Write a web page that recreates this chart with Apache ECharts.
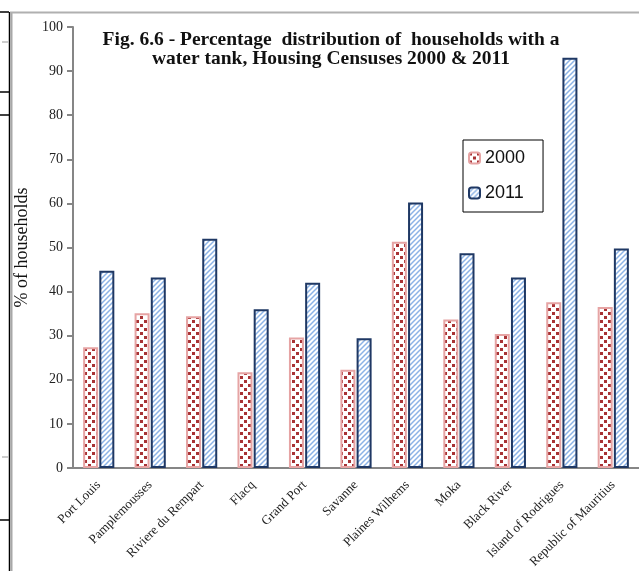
<!DOCTYPE html>
<html>
<head>
<meta charset="utf-8">
<script src="https://cdn.jsdelivr.net/npm/echarts@6/dist/echarts.min.js"></script>
<style>
html,body{margin:0;padding:0;background:#fff;}
#chart{width:639px;height:571px;}
</style>
</head>
<body>
<div id="chart"></div>
<script>
const categories = ["Port Louis","Pamplemousses","Riviere du Rempart","Flacq","Grand Port","Savanne","Plaines Wilhems","Moka","Black River","Island of Rodrigues","Republic of Mauritius"];
const values2000 = [27.4, 35.1, 34.4, 21.7, 29.6, 22.3, 51.3, 33.7, 30.4, 37.6, 36.5];
const values2011 = [44.7, 43.2, 52.0, 36.0, 42.0, 29.4, 60.2, 48.7, 43.2, 93.0, 49.8];
const yTicks = [0, 10, 20, 30, 40, 50, 60, 70, 80, 90, 100];
const seriesNames = ["2000", "2011"];

function dotPattern() {
  const c = document.createElement('canvas');
  c.width = 8; c.height = 8;
  const g = c.getContext('2d');
  g.fillStyle = '#ffffff'; g.fillRect(0, 0, 8, 8);
  g.fillStyle = '#a83234';
  g.fillRect(0, 0, 3, 3);
  g.fillRect(4, 4, 3, 3);
  return c;
}
function hatchPattern() {
  const c = document.createElement('canvas');
  c.width = 5; c.height = 5;
  const g = c.getContext('2d');
  g.fillStyle = '#ffffff'; g.fillRect(0, 0, 5, 5);
  g.strokeStyle = '#8cb3e6';
  g.lineWidth = 1.5;
  g.beginPath();
  g.moveTo(-1, 6); g.lineTo(6, -1);
  g.moveTo(-1, 1); g.lineTo(1, -1);
  g.moveTo(4, 6); g.lineTo(6, 4);
  g.stroke();
  return c;
}

const chart = echarts.init(document.getElementById('chart'));
const serif = '"Liberation Serif", "DejaVu Serif", serif';
chart.setOption({
  animation: false,
  backgroundColor: '#ffffff',
  title: {
    text: 'Fig. 6.6 - Percentage  distribution of  households with a\nwater tank, Housing Censuses 2000 & 2011',
    left: 326, top: 25, textAlign: 'center',
    textStyle: { fontFamily: serif, fontWeight: 'bold', fontSize: 19.5, lineHeight: 19, color: '#111' }
  },
  legend: {
    orient: 'vertical',
    left: 463, top: 140,
    padding: [9, 18, 10, 5],
    itemGap: 17,
    itemWidth: 11, itemHeight: 11,
    borderColor: '#000', borderWidth: 1,
    backgroundColor: '#fff',
    textStyle: { fontFamily: '"Liberation Sans", Arial, sans-serif', fontSize: 18, color: '#111' },
    data: seriesNames
  },
  grid: { left: 73, right: -6, top: 27, bottom: 103, containLabel: false },
  xAxis: {
    type: 'category',
    data: categories,
    axisLine: { lineStyle: { color: '#868686', width: 2 } },
    axisTick: { show: false },
    axisLabel: { rotate: 45, interval: 0, margin: 15, fontFamily: serif, fontSize: 13, color: '#222' }
  },
  yAxis: {
    type: 'value', min: yTicks[0], max: yTicks[yTicks.length - 1], interval: 10,
    name: '% of households', nameLocation: 'middle', nameGap: 42,
    nameTextStyle: { fontFamily: serif, fontSize: 18, color: '#111' },
    axisLine: { show: true, lineStyle: { color: '#868686', width: 2 } },
    axisTick: { show: true, length: 6, lineStyle: { color: '#868686', width: 2 } },
    axisLabel: { fontFamily: serif, fontSize: 14, color: '#222', margin: 10 },
    splitLine: { show: false }
  },
  series: [
    {
      name: seriesNames[0], type: 'bar', data: values2000,
      barWidth: 15, barGap: '8%',
      itemStyle: { color: { image: dotPattern(), repeat: 'repeat' }, borderColor: '#e6a4a4', borderWidth: 2 }
    },
    {
      name: seriesNames[1], type: 'bar', data: values2011,
      barWidth: 15,
      itemStyle: { color: { image: hatchPattern(), repeat: 'repeat' }, borderColor: '#1f3864', borderWidth: 2 }
    }
  ],
  graphic: [
    { type: 'line', shape: { x1: 9.5, y1: 12, x2: 9.5, y2: 571 }, style: { stroke: '#000', lineWidth: 1.5 } },
    { type: 'line', shape: { x1: 11.5, y1: 12, x2: 11.5, y2: 571 }, style: { stroke: '#a8a8a8', lineWidth: 2 } },
    { type: 'line', shape: { x1: 10, y1: 12.5, x2: 639, y2: 12.5 }, style: { stroke: '#b0b0b0', lineWidth: 2 } },
    { type: 'line', shape: { x1: 0, y1: 12, x2: 9, y2: 12 }, style: { stroke: '#000', lineWidth: 1.5 } },
    { type: 'line', shape: { x1: 0, y1: 92, x2: 9, y2: 92 }, style: { stroke: '#000', lineWidth: 1.5 } },
    { type: 'line', shape: { x1: 0, y1: 115, x2: 9, y2: 115 }, style: { stroke: '#000', lineWidth: 1.5 } },
    { type: 'line', shape: { x1: 0, y1: 520, x2: 9, y2: 520 }, style: { stroke: '#000', lineWidth: 1.5 } },
    { type: 'line', shape: { x1: 2, y1: 42, x2: 8, y2: 42 }, style: { stroke: '#999', lineWidth: 1 } },
    { type: 'line', shape: { x1: 2, y1: 457, x2: 8, y2: 457 }, style: { stroke: '#999', lineWidth: 1 } }
  ]
});
</script>
</body>
</html>
